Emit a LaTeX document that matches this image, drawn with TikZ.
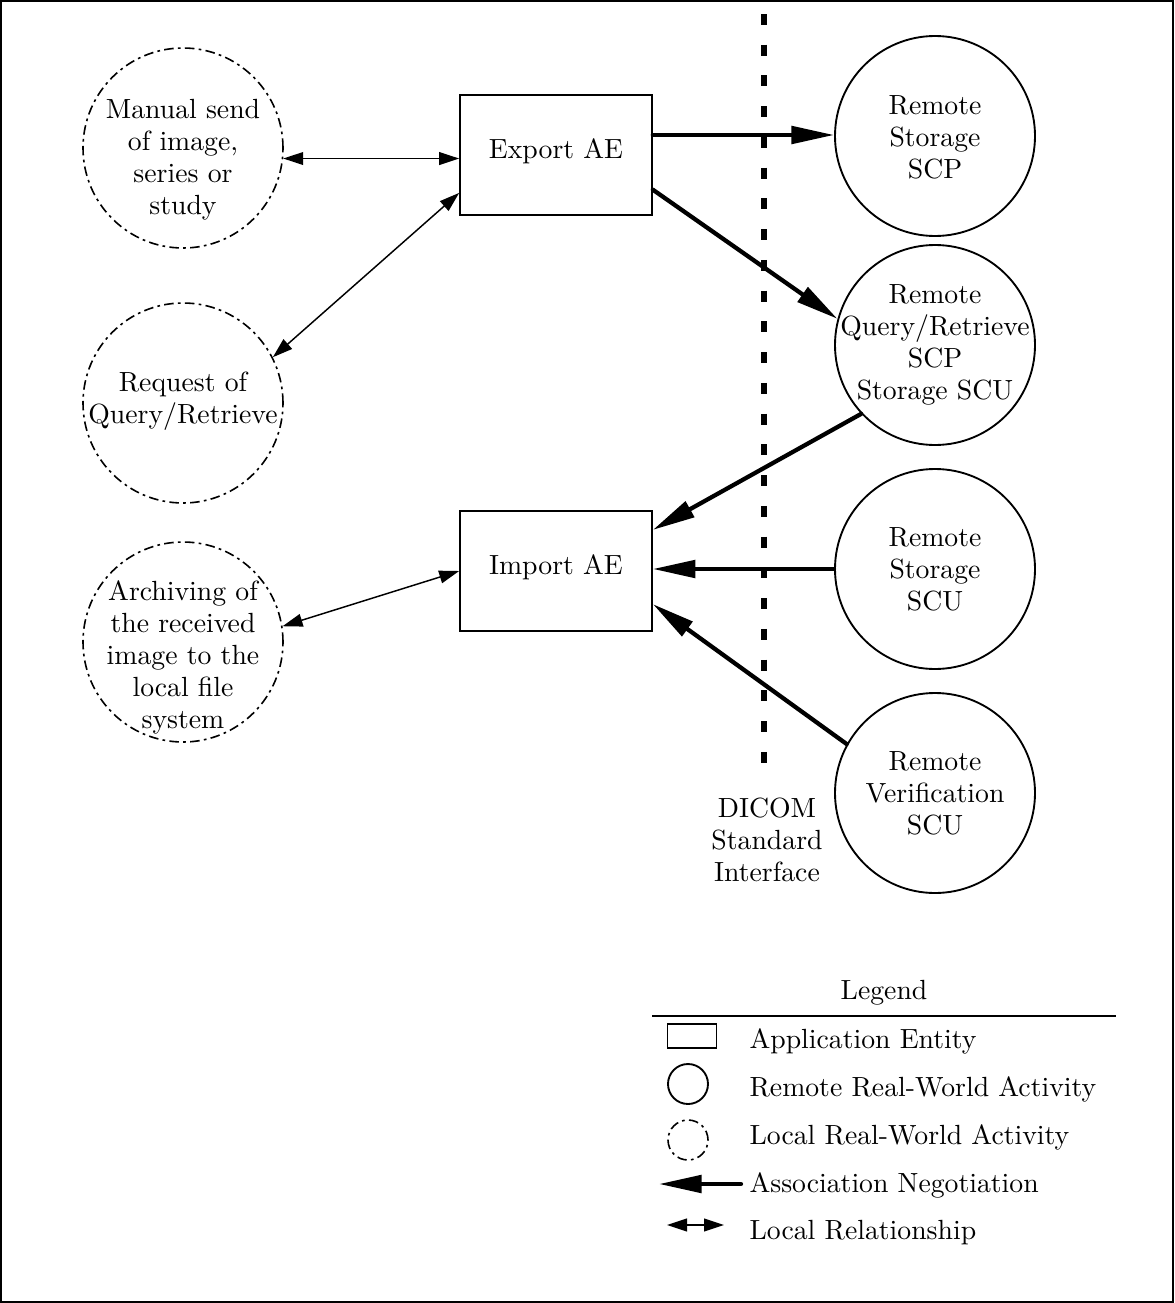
\documentclass[tikz,border=0pt]{standalone}
\usepackage{tikz}
\usetikzlibrary{arrows.meta}

\begin{document}
\begin{tikzpicture}[x=0.375pt,y=-0.375pt,
                    font=\fontsize{10.4}{12}\selectfont,
                    ae/.style={rectangle,draw,line width=0.6pt,
                    minimum width=72pt,minimum height=45pt,inner sep=0pt,
                    text depth=5pt},
                    remote/.style={circle,draw,line width=0.7pt,
                    minimum size=75pt,inner sep=0pt},
                    localact/.style={circle,draw,line width=0.6pt,
                    dash pattern=on 3.6pt off 1.6pt on 1pt off 1.6pt,
                    minimum size=75pt,inner sep=0pt},
                    txt/.style={align=center,inner sep=0pt},
                    assoc/.style={line width=1.6pt,line cap=round,
                    -{Triangle[length=16pt,width=6.5pt]}},
                    rel/.style={line width=0.55pt,
                    {Triangle[length=7.5pt,width=4.8pt]}-{Triangle[length=7.5pt,width=4.8pt]}}]
    \useasboundingbox (0,0) rectangle (1174,1303);
    \draw[line width=0.6pt] (1,1) rectangle (1173,1302);

    % interface line
    \draw[line width=2.6pt,dash pattern=on 4.1pt off 7.43pt] (764,14) -- (764,764);
    \node[txt] (dicom) at (767,840) {DICOM\\Standard\\Interface};

    % application entities
    \node[ae] (export) at (556,155) {Export AE};
    \node[ae] (import) at (556,571) {Import AE};

    % local activities
    \node[localact] (d1) at (183,148) {};
    \node[txt] (d1txt) at (183,160) {Manual send\\of image,\\series or\\study};
    \node[localact] (d2) at (183,403) {};
    \node[txt] (d2txt) at (183,401) {Request of\\Query/Retrieve};
    \node[localact] (d3) at (183,642) {};
    \node[txt] (d3txt) at (183,657) {Archiving of\\the received\\image to the\\local file\\system};

    % remote activities
    \node[remote] (c1) at (935,136) {};
    \node[txt] (c1txt) at (935,137) {Remote\\Storage\\SCP};
    \node[remote] (c2) at (935,345) {};
    \node[txt] (c2txt) at (935,345) {Remote\\Query/Retrieve\\SCP\\Storage SCU};
    \node[remote] (c3) at (935,569) {};
    \node[txt] (c3txt) at (935,569) {Remote\\Storage\\SCU};
    \node[remote] (c4) at (935,793) {};
    \node[txt] (c4txt) at (935,793) {Remote\\Verification\\SCU};

    % associations
    \draw[assoc] ([yshift=7.5pt]export.east) -- ([yshift=7.5pt]export.east -| c1.west);
    \draw[assoc] ([yshift=-13pt]export.east) -- (c2.165);
    \draw[assoc] (c2.223) -- ([yshift=15.4pt]import.east);
    \draw[assoc] (c3.west) -- (c3.west -| import.east);
    \draw[assoc] (c4.151) -- ([yshift=-12.4pt]import.east);

    % local relationships
    \draw[rel] (d1.-6) -- (d1.-6 -| export.west);
    \draw[rel] (d2.27) -- ([yshift=-14.2pt]export.west);
    \draw[rel] (d3.9) -- (import.west);

    % legend
    \node (leghead) at (884,993) {Legend};
    \draw[line width=0.6pt] (652,1016) -- (1116,1016);
    \node[rectangle,draw,line width=0.6pt,minimum width=18.4pt,minimum height=9pt,
          inner sep=0pt] (legae) at (692,1036) {};
    \node[remote,minimum size=15pt] (legremote) at (688,1084) {};
    \node[localact,minimum size=15pt] (leglocal) at (688,1140) {};
    \coordinate (assocA) at (741,1184);
    \coordinate (assocB) at (659,1184);
    \draw[assoc] (assocA) -- (assocB);
    \coordinate (relA) at (667,1225);
    \coordinate (relB) at (724,1225);
    \draw[rel] (relA) -- (relB);
    \node[anchor=west,inner sep=0pt] (t1) at (749,1041) {Application Entity};
    \node[anchor=west,inner sep=0pt] (t2) at (749,1089) {Remote Real-World Activity};
    \node[anchor=west,inner sep=0pt] (t3) at (749,1137) {Local Real-World Activity};
    \node[anchor=west,inner sep=0pt] (t4) at (749,1185) {Association Negotiation};
    \node[anchor=west,inner sep=0pt] (t5) at (749,1233) {Local Relationship};
\end{tikzpicture}
\end{document}
